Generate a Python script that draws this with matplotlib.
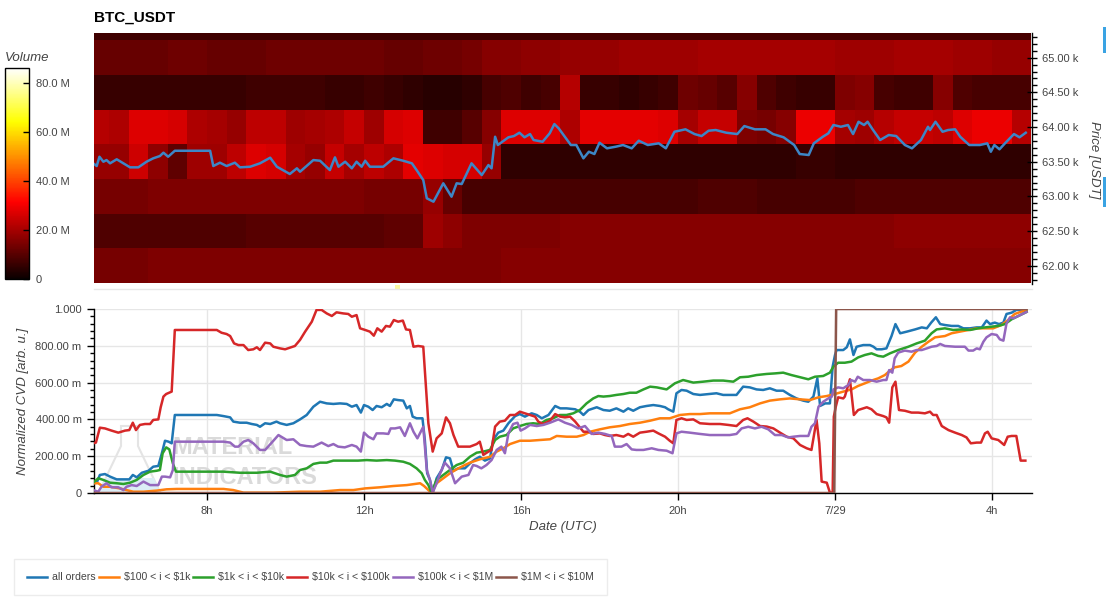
import numpy as np
import matplotlib
matplotlib.use('Agg')
import matplotlib.pyplot as plt
from matplotlib.ticker import FixedLocator, FuncFormatter, MultipleLocator
from matplotlib.colors import Normalize
from matplotlib.cm import ScalarMappable
from matplotlib.lines import Line2D
from matplotlib.patches import Rectangle, Polygon

plt.rcParams['font.family'] = ['Liberation Sans', 'DejaVu Sans']

# ---------------- data ----------------
# price (hours since 7/28 00:00 UTC, USDT)
price_t = [5.10,5.19,5.26,5.36,5.44,5.53,5.70,5.87,6.04,6.25,6.46,6.63,6.80,6.89,7.01,7.18,8.08,8.16,8.33,8.50,
           8.71,8.84,9.10,9.35,9.61,9.78,10.11,10.29,10.37,10.71,10.88,11.13,11.26,11.35,11.52,11.69,11.81,11.94,12.03,12.15,
           12.49,12.75,13.00,13.22,13.34,13.51,13.60,13.77,14.02,14.23,14.36,14.49,14.74,15.00,15.17,15.25,15.34,15.41,15.68,15.82,
           15.96,16.09,16.23,16.32,16.55,16.73,16.85,16.96,17.27,17.41,17.59,17.73,17.87,18.00,18.19,18.41,18.60,18.82,19.00,19.23,
           19.51,19.69,19.91,20.19,20.42,20.60,20.78,20.96,21.23,21.51,21.69,21.96,22.23,22.42,22.69,22.96,23.10,23.33,23.46,23.69,
           23.83,23.96,24.15,24.33,24.46,24.60,24.74,24.83,24.97,25.15,25.37,25.56,25.78,25.96,26.19,26.37,26.42,26.56,26.74,26.88,
           27.06,27.19,27.42,27.69,27.88,27.97,28.06,28.19,28.33,28.56,28.70,28.86]
price_v = [63477,63438,63572,63500,63524,63477,63535,63477,63419,63419,63500,63549,63582,63630,63572,63658,63658,63438,63486,63438,
           63486,63419,63428,63477,63558,63428,63323,63405,63356,63524,63514,63380,63563,63428,63500,63405,63500,63428,63514,63428,
           63428,63549,63514,63477,63380,63236,62973,62924,63189,62996,63189,63179,63477,63308,63452,63405,63860,63741,63852,63870,
           63918,63852,63899,63813,63788,63909,64043,63981,63741,63741,63549,63644,63611,63774,63693,63716,63741,63693,63803,63741,
           63765,63693,63932,63967,63899,63870,63947,63957,63918,63899,64014,63967,63967,63899,63852,63741,63611,63597,63765,63860,
           63909,64029,64004,64029,63899,64076,64029,64076,63957,63813,63885,63870,63741,63693,63813,64004,63957,64076,63932,63957,
           63967,63860,63741,63741,63765,63644,63741,63679,63765,63899,63852,63918]

# volume heatmap (M USDT), price bands of 500 USDT, 30-minute columns from 05:00
band_centers = [62000, 62500, 63000, 63500, 64000, 64500, 65000, 65500]
vol_62000 = [14,14,14,15,15,15,15,15,15,15,15,15,15,15,15,15,15,15,15,15,15,16,16,16,16,16,16,16,16,16,
             16,16,16,16,16,16,16,16,16,16,16,16,16,16,16,16,16,16]
vol_62500 = [9,9,9,9,9,9,9,9,10,10,10,10,10,10,10,11,11,19,17,15,15,15,15,15,16,16,16,16,16,16,
             16,16,16,16,16,16,16,16,16,16,16,17,17,17,17,17,17,17]
vol_63000 = [14,14,14,15,15,15,15,15,15,15,15,15,15,15,14,14,14,18,12,8,8,8,8,8,8,8,8,8,8,8,
             8,9,9,9,8,8,8,8,8,9,9,9,9,9,9,9,9,9]
vol_63500 = [18,18,25,17,11,19,19,23,27,26,20,18,24,20,23,21,28,27,26,26,18,5,5,5,5,5,5,5,5,5,
             5,5,5,5,5,5,6,6,5,5,5,5,5,5,5,5,5,5]
vol_64000 = [22,21,27,27,26,21,20,18,23,23,19,20,21,24,19,26,27,7,7,10,16,27,27,27,21,28,28,28,28,27,
             20,24,24,15,14,16,29,29,20,19,22,24,24,23,27,29,29,22]
vol_64500 = [6,6,6,6,6,6,6,6,7,7,7,7,6,6,7,6,5,4,4,5,8,9,7,8,22,6,6,5,6,7,
             13,12,10,16,9,7,6,6,15,16,8,7,7,16,9,8,8,8]
vol_65000 = [12,12,12,12,13,13,12,12,12,13,13,13,13,13,13,12,12,13,13,14,16,16,17,17,18,18,18,19,19,19,
             19,20,20,20,20,20,20,20,19,19,19,20,20,20,19,19,18,18]
vol_65500 = [7,7,7,7,7,7,7,7,7,7,7,7,7,7,7,7,7,7,7,7,7,7,7,7,8,8,8,8,8,8,
             8,8,8,8,8,8,8,8,8,8,8,8,8,8,8,8,8,8]

# normalized CVD series: (hour, value)
all_orders = [(5.10,.053),(5.19,.056),(5.27,.098),(5.40,.103),(5.53,.089),(5.70,.074),(5.87,.074),(6.02,.074),(6.11,.098),(6.21,.085),
    (6.34,.11),(6.51,.121),(6.63,.143),(6.76,.147),(6.85,.216),(6.93,.284),(7.02,.279),(7.10,.27),(7.18,.424),(8.25,.424),
    (8.42,.418),(8.59,.411),(8.67,.388),(8.84,.382),(9.01,.382),(9.14,.375),(9.27,.37),(9.35,.36),(9.48,.379),(9.61,.375),
    (9.77,.388),(9.86,.379),(10.03,.37),(10.20,.379),(10.37,.40),(10.54,.424),(10.71,.469),(10.88,.496),(11.05,.487),(11.22,.484),
    (11.39,.487),(11.56,.484),(11.69,.469),(11.81,.478),(11.92,.437),(12.00,.478),(12.11,.469),(12.22,.451),(12.32,.473),(12.45,.466),
    (12.58,.484),(12.66,.473),(12.76,.509),(12.87,.505),(13.00,.502),(13.09,.46),(13.17,.473),(13.24,.415),(13.34,.406),(13.49,.406),
    (13.55,.288),(13.61,.107),(13.68,.071),(13.75,.002),(13.85,.08),(13.98,.125),(14.09,.194),(14.19,.188),(14.28,.121),(14.40,.134),
    (14.57,.134),(14.70,.161),(14.83,.183),(14.95,.197),(15.08,.176),(15.21,.188),(15.29,.288),(15.42,.328),(15.55,.339),(15.68,.379),
    (15.85,.418),(15.97,.429),(16.10,.415),(16.27,.433),(16.40,.424),(16.53,.406),(16.70,.424),(16.87,.473),(17.00,.46),(17.16,.46),
    (17.38,.455),(17.50,.442),(17.59,.424),(17.72,.451),(17.93,.466),(18.10,.451),(18.26,.447),(18.43,.46),(18.61,.442),(18.73,.46),
    (18.86,.447),(19.03,.466),(19.20,.473),(19.37,.478),(19.54,.473),(19.67,.466),(19.75,.455),(19.88,.442),(19.96,.542),(20.09,.56),
    (20.22,.556),(20.39,.538),(20.56,.533),(20.81,.538),(20.98,.542),(21.15,.533),(21.32,.533),(21.49,.533),(21.66,.578),(21.83,.574),
    (22.00,.563),(22.17,.56),(22.34,.569),(22.51,.556),(22.68,.556),(22.85,.533),(23.02,.514),(23.19,.502),(23.32,.496),(23.45,.524),
    (23.55,.623),(23.62,.473),(23.75,.487),(23.87,.487),(23.94,.687),(24.00,.75),(24.04,.777),(24.21,.777),(24.30,.792),(24.38,.835),
    (24.47,.75),(24.55,.795),(24.72,.804),(24.89,.804),(24.98,.795),(25.06,.781),(25.19,.781),(25.31,.786),(25.44,.853),(25.54,.918),
    (25.66,.868),(25.83,.877),(26.04,.889),(26.21,.90),(26.34,.895),(26.45,.926),(26.57,.955),(26.68,.918),(26.80,.913),(26.97,.908),
    (27.14,.908),(27.27,.895),(27.44,.895),(27.61,.90),(27.74,.90),(27.86,.937),(27.95,.918),(28.07,.926),(28.18,.918),(28.29,.926),
    (28.37,.973),(28.50,.98),(28.62,.995),(28.75,.995),(28.88,.991)]

cvd_100_1k = [(5.10,.053),(5.23,.053),(5.36,.034),(5.53,.034),(5.78,.025),(5.95,.016),(6.12,.007),(6.38,.007),(6.72,.013),(6.97,.02),
    (7.23,.022),(7.57,.022),(7.99,.022),(8.42,.022),(8.67,.016),(8.93,.002),(9.27,.002),(9.69,.002),(10.37,.007),(10.88,.007),
    (11.39,.016),(11.73,.016),(12.03,.025),(12.41,.031),(12.75,.038),(13.09,.043),(13.43,.053),(13.53,.038),(13.64,.016),(13.72,.002),
    (13.85,.053),(14.02,.08),(14.19,.107),(14.36,.129),(14.57,.152),(14.70,.165),(14.95,.183),(15.21,.197),(15.38,.225),(15.55,.243),
    (15.72,.266),(15.97,.284),(16.23,.284),(16.48,.288),(16.74,.292),(16.91,.31),(17.16,.306),(17.42,.306),(17.59,.315),(17.76,.333),
    (18.01,.346),(18.26,.357),(18.52,.364),(18.77,.375),(19.03,.382),(19.29,.393),(19.54,.406),(19.79,.406),(20.05,.424),(20.30,.429),
    (20.56,.429),(20.81,.433),(21.07,.433),(21.32,.433),(21.58,.455),(21.83,.466),(22.09,.487),(22.34,.502),(22.60,.509),(22.85,.514),
    (23.11,.509),(23.36,.505),(23.58,.52),(23.79,.527),(24.00,.538),(24.21,.551),(24.42,.563),(24.59,.582),(24.76,.596),(24.93,.611),
    (25.10,.623),(25.27,.641),(25.40,.665),(25.52,.683),(25.69,.69),(25.87,.714),(26.04,.763),(26.21,.795),(26.38,.822),(26.55,.846),
    (26.80,.853),(26.97,.868),(27.18,.877),(27.40,.886),(27.61,.895),(27.82,.895),(28.03,.895),(28.24,.913),(28.41,.94),(28.58,.973),
    (28.75,.986),(28.88,.991)]

cvd_1k_10k = [(5.10,.056),(5.23,.08),(5.36,.071),(5.53,.056),(5.70,.053),(5.87,.049),(6.04,.056),(6.21,.071),(6.38,.098),(6.55,.116),
    (6.72,.121),(6.80,.125),(6.87,.216),(6.96,.248),(7.04,.237),(7.13,.161),(7.21,.116),(7.57,.116),(7.99,.116),(8.42,.116),
    (8.84,.11),(9.27,.11),(9.61,.116),(9.86,.098),(10.03,.089),(10.24,.098),(10.37,.125),(10.54,.134),(10.71,.158),(10.88,.165),
    (11.05,.165),(11.22,.176),(11.43,.176),(11.64,.176),(11.85,.176),(12.07,.179),(12.32,.176),(12.58,.179),(12.79,.176),(13.00,.17),
    (13.17,.158),(13.34,.134),(13.47,.107),(13.55,.071),(13.64,.043),(13.72,.002),(13.85,.071),(14.02,.098),(14.19,.125),(14.36,.152),
    (14.53,.165),(14.70,.197),(14.87,.219),(15.04,.225),(15.21,.234),(15.34,.288),(15.46,.306),(15.63,.315),(15.80,.351),(15.97,.364),
    (16.14,.375),(16.31,.379),(16.48,.375),(16.65,.397),(16.82,.406),(16.99,.424),(17.16,.424),(17.33,.433),(17.50,.451),(17.67,.487),
    (17.84,.514),(17.97,.527),(18.10,.524),(18.26,.527),(18.43,.533),(18.61,.538),(18.77,.545),(18.94,.545),(19.12,.563),(19.29,.578),
    (19.46,.574),(19.71,.563),(19.92,.596),(20.13,.614),(20.39,.60),(20.64,.605),(20.90,.611),(21.15,.611),(21.41,.605),(21.58,.629),
    (21.79,.632),(22.00,.641),(22.26,.647),(22.47,.65),(22.68,.654),(22.89,.641),(23.11,.629),(23.32,.618),(23.49,.632),(23.70,.636),
    (23.87,.654),(23.96,.687),(24.08,.708),(24.25,.708),(24.42,.714),(24.59,.737),(24.76,.75),(24.93,.759),(25.10,.745),(25.23,.741),
    (25.40,.759),(25.61,.777),(25.87,.795),(26.08,.813),(26.29,.828),(26.46,.868),(26.59,.889),(26.80,.895),(27.01,.886),(27.23,.889),
    (27.44,.886),(27.65,.895),(27.82,.90),(27.99,.904),(28.16,.908),(28.33,.918),(28.50,.944),(28.67,.962),(28.88,.984)]

cvd_10k_100k = [(5.10,.27),(5.17,.274),(5.27,.355),(5.40,.351),(5.57,.339),(5.74,.328),(5.91,.339),(6.02,.342),(6.11,.382),(6.19,.342),
    (6.29,.37),(6.42,.375),(6.55,.375),(6.63,.397),(6.76,.40),(6.82,.466),(6.89,.524),(6.96,.538),(7.10,.551),(7.18,.886),
    (8.25,.886),(8.37,.871),(8.50,.864),(8.59,.853),(8.69,.813),(8.80,.804),(8.93,.804),(9.05,.777),(9.18,.781),(9.27,.792),
    (9.35,.777),(9.48,.817),(9.61,.813),(9.69,.795),(9.86,.786),(9.99,.781),(10.24,.799),(10.37,.832),(10.50,.877),(10.67,.931),
    (10.79,.995),(10.92,.995),(11.05,.976),(11.18,.962),(11.30,.982),(11.47,.976),(11.60,.973),(11.69,.958),(11.81,.967),(11.90,.895),
    (12.03,.886),(12.15,.877),(12.25,.855),(12.34,.895),(12.45,.877),(12.56,.908),(12.66,.904),(12.76,.94),(12.87,.931),(12.99,.937),
    (13.07,.889),(13.17,.886),(13.26,.795),(13.38,.799),(13.51,.795),(13.64,.379),(13.75,.225),(13.85,.297),(13.98,.324),(14.09,.411),
    (14.19,.379),(14.28,.315),(14.40,.252),(14.57,.252),(14.70,.252),(14.87,.266),(14.95,.279),(15.04,.207),(15.17,.225),(15.25,.234),
    (15.34,.361),(15.46,.388),(15.59,.393),(15.72,.424),(15.85,.424),(15.97,.442),(16.10,.433),(16.23,.424),(16.36,.415),(16.44,.388),
    (16.57,.375),(16.74,.393),(16.87,.429),(17.00,.415),(17.12,.411),(17.25,.415),(17.38,.388),(17.59,.333),(17.72,.333),(17.84,.321),
    (18.01,.324),(18.14,.315),(18.26,.31),(18.43,.315),(18.61,.306),(18.73,.321),(18.86,.306),(19.03,.328),(19.20,.333),(19.37,.339),
    (19.50,.324),(19.67,.306),(19.79,.284),(19.88,.27),(19.96,.397),(20.09,.406),(20.22,.397),(20.39,.40),(20.56,.379),(20.81,.375),
    (21.07,.375),(21.28,.37),(21.49,.364),(21.66,.397),(21.77,.406),(21.92,.388),(22.09,.364),(22.26,.361),(22.43,.351),(22.60,.328),
    (22.77,.306),(22.94,.297),(23.11,.261),(23.28,.243),(23.40,.234),(23.53,.397),(23.60,.27),(23.66,.062),(23.79,.056),(23.87,.002),
    (23.94,.002),(23.97,.415),(24.02,.469),(24.08,.52),(24.21,.514),(24.25,.524),(24.38,.618),(24.48,.424),(24.59,.451),(24.72,.46),
    (24.81,.466),(24.93,.455),(25.06,.429),(25.23,.418),(25.31,.411),(25.38,.382),(25.46,.574),(25.54,.605),(25.63,.451),(25.78,.447),
    (25.95,.437),(26.12,.437),(26.29,.433),(26.42,.442),(26.50,.424),(26.59,.424),(26.72,.364),(26.89,.342),(27.06,.328),(27.23,.315),
    (27.35,.302),(27.46,.27),(27.61,.274),(27.72,.274),(27.82,.324),(27.89,.333),(27.99,.297),(28.16,.288),(28.31,.261),(28.40,.306),
    (28.50,.31),(28.62,.31),(28.73,.176),(28.85,.176)]

cvd_100k_1m = [(5.10,.016),(5.23,.007),(5.31,.034),(5.44,.053),(5.57,.031),(5.74,.031),(5.87,.016),(5.95,.034),(6.08,.043),(6.21,.038),
    (6.38,.062),(6.55,.043),(6.76,.043),(6.85,.089),(6.93,.089),(7.06,.085),(7.13,.125),(7.18,.279),(7.99,.279),(8.42,.279),
    (8.59,.274),(8.71,.252),(8.80,.252),(8.93,.279),(9.05,.288),(9.18,.27),(9.35,.234),(9.48,.234),(9.65,.274),(9.82,.315),
    (10.03,.288),(10.20,.292),(10.37,.261),(10.54,.255),(10.71,.252),(10.92,.274),(11.09,.255),(11.22,.266),(11.34,.252),(11.51,.248),
    (11.69,.261),(11.81,.252),(11.92,.225),(12.00,.328),(12.11,.306),(12.24,.292),(12.32,.324),(12.49,.324),(12.62,.321),(12.68,.351),
    (12.79,.351),(12.92,.357),(13.04,.31),(13.17,.379),(13.26,.333),(13.36,.297),(13.51,.36),(13.60,.125),(13.68,.071),(13.75,.002),
    (13.85,.053),(13.94,.107),(14.06,.165),(14.19,.134),(14.32,.053),(14.49,.089),(14.66,.098),(14.78,.152),(14.87,.147),(14.99,.134),
    (15.12,.152),(15.25,.179),(15.38,.234),(15.50,.252),(15.59,.216),(15.68,.324),(15.80,.375),(15.91,.382),(15.99,.339),(16.10,.351),
    (16.23,.37),(16.40,.364),(16.57,.37),(16.74,.382),(16.95,.40),(17.12,.382),(17.29,.37),(17.46,.351),(17.63,.364),(17.80,.321),
    (17.97,.328),(18.14,.321),(18.31,.31),(18.39,.252),(18.56,.252),(18.69,.266),(18.82,.237),(18.94,.234),(19.12,.234),(19.33,.243),
    (19.50,.234),(19.71,.23),(19.86,.216),(19.96,.324),(20.09,.333),(20.30,.328),(20.56,.321),(20.81,.315),(21.07,.315),(21.32,.315),
    (21.49,.321),(21.62,.351),(21.79,.36),(21.96,.351),(22.13,.36),(22.30,.346),(22.47,.315),(22.64,.315),(22.81,.302),(22.94,.306),
    (23.11,.31),(23.32,.31),(23.40,.36),(23.49,.379),(23.58,.469),(23.70,.496),(23.83,.514),(23.92,.524),(23.96,.563),(24.08,.574),
    (24.21,.569),(24.34,.587),(24.41,.614),(24.51,.605),(24.58,.632),(24.72,.614),(24.89,.614),(25.06,.605),(25.23,.614),(25.31,.614),
    (25.38,.668),(25.46,.654),(25.52,.732),(25.61,.763),(25.78,.774),(25.95,.768),(26.08,.777),(26.21,.777),(26.34,.786),(26.46,.795),
    (26.59,.799),(26.68,.81),(26.80,.799),(27.06,.795),(27.31,.795),(27.40,.774),(27.52,.774),(27.61,.786),(27.69,.781),(27.78,.822),
    (27.86,.846),(27.99,.864),(28.12,.859),(28.20,.835),(28.29,.828),(28.37,.922),(28.46,.955),(28.54,.949),(28.67,.962),(28.88,.984)]

cvd_1m_10m = [(5.10,0.0),(23.98,0.0),(24.03,1.0),(28.88,1.0)]

series_labels = ['all orders', r'\$100 < i < \$1k', r'\$1k < i < \$10k', r'\$10k < i < \$100k',
                 r'\$100k < i < \$1M', r'\$1M < i < \$10M']
series_colors = ['#1f77b4', '#ff7f0e', '#2ca02c', '#d62728', '#9467bd', '#8c564b']

# ---------------- layout helpers ----------------
W, H = 1106, 597
fig = plt.figure(figsize=(W / 100, H / 100), dpi=100)

def fx(px):
    return px / W

def fy(py):
    return 1 - py / H

TXT = '#444444'
XMIN, XMAX = 5.121, 29.019

# ---------------- top heatmap ----------------
ax1 = fig.add_axes([fx(94), fy(284), fx(1032) - fx(94), fy(33) - fy(284)])
vol = np.array([vol_62000, vol_62500, vol_63000, vol_63500, vol_64000, vol_64500, vol_65000, vol_65500], dtype=float)
t_edges = np.arange(5.0, 29.01, 0.5)
c = np.array(band_centers, dtype=float)
p_edges = np.concatenate([c - 250, [c[-1] + 250]])
norm = Normalize(0, 86)
ax1.pcolormesh(t_edges, p_edges, vol, cmap='hot', norm=norm, shading='flat', antialiased=False, zorder=1)
ax1.plot(price_t, price_v, color='#3d86c6', lw=1.8, zorder=3)
ax1.set_xlim(XMIN, XMAX)
ax1.set_ylim(61738, 65355)
for s in ['left', 'top', 'bottom']:
    ax1.spines[s].set_visible(False)
ax1.spines['right'].set_linewidth(1.0)
ax1.set_xticks([])
ax1.yaxis.tick_right()
ax1.yaxis.set_major_locator(MultipleLocator(500))
ax1.yaxis.set_minor_locator(MultipleLocator(100))
ax1.yaxis.set_major_formatter(FuncFormatter(lambda v, p: f'{v/1000:.2f} k'))
ax1.tick_params(axis='y', which='major', direction='inout', length=7, width=1, labelsize=8, labelcolor=TXT, pad=4)
ax1.tick_params(axis='y', which='minor', direction='out', length=3.5, width=1)

fig.text(fx(94), fy(18), 'BTC_USDT', fontsize=11, fontweight='bold', ha='left', va='center')
fig.text(fx(1094), fy(160), 'Price [USDT]', rotation=270, style='italic', fontsize=9.5,
         color=TXT, ha='center', va='center')

# colorbar
cax = fig.add_axes([fx(5), fy(279), fx(29) - fx(5), fy(68) - fy(279)])
cb = fig.colorbar(ScalarMappable(norm=norm, cmap='hot'), cax=cax)
cb.set_ticks([0, 20, 40, 60, 80])
cb.ax.yaxis.set_major_formatter(FuncFormatter(lambda v, p: '0' if v == 0 else f'{v:.1f} M'))
cb.ax.tick_params(direction='in', length=4, width=1, labelsize=8, labelcolor=TXT, pad=5)
cb.outline.set_linewidth(1.0)
fig.text(fx(5), fy(58), 'Volume', style='italic', fontsize=9.5, color=TXT, ha='left', va='center')

# decorations
fig.add_artist(Line2D([fx(94), fx(1032)], [fy(289), fy(289)], color='#e8e8e8', lw=1))
fig.add_artist(Rectangle((fx(395), fy(290)), fx(5), fy(285) - fy(290), color='#fbf7a0', lw=0))
fig.add_artist(Rectangle((fx(1103), fy(53)), fx(3), fy(27) - fy(53), color='#3aa3e3', lw=0))
fig.add_artist(Rectangle((fx(1103), fy(207)), fx(3), fy(177) - fy(207), color='#3aa3e3', lw=0))

# ---------------- bottom CVD chart ----------------
ax2 = fig.add_axes([fx(94), fy(493), fx(1032) - fx(94), fy(309) - fy(493)])
ax2.set_axisbelow(True)
series = [all_orders, cvd_100_1k, cvd_1k_10k, cvd_10k_100k, cvd_100k_1m, cvd_1m_10m]
handles = []
for pts, col, lab in zip(series, series_colors, series_labels):
    t = [a for a, b in pts]
    v = [b for a, b in pts]
    ln, = ax2.plot(t, v, color=col, lw=1.8, label=lab, zorder=3, solid_joinstyle='round')
    handles.append(ln)

ax2.set_xlim(XMIN, XMAX)
ax2.set_ylim(0, 1.0)
ax2.xaxis.set_major_locator(FixedLocator([8, 12, 16, 20, 24, 28]))
ax2.xaxis.set_major_formatter(FuncFormatter(lambda h, p: '7/29' if int(round(h)) == 24 else f'{int(round(h)) % 24}h'))
ax2.yaxis.set_major_locator(MultipleLocator(0.2))
ax2.yaxis.set_minor_locator(MultipleLocator(0.04))
ax2.yaxis.set_major_formatter(FuncFormatter(
    lambda v, p: '0' if abs(v) < 1e-9 else ('1.000' if abs(v - 1) < 1e-9 else f'{v*1000:.2f} m')))
ax2.grid(True, which='major', color='#e6e6e6', lw=1)
for s in ['top', 'right']:
    ax2.spines[s].set_visible(False)
for s in ['left', 'bottom']:
    ax2.spines[s].set_linewidth(1.0)
ax2.tick_params(axis='both', which='major', direction='out', length=5, width=1, labelsize=8, labelcolor=TXT, pad=4)
ax2.tick_params(axis='y', which='minor', direction='out', length=3, width=1)

fig.text(fx(23), fy(401), 'Normalized CVD [arb. u.]', rotation=90, style='italic', fontsize=9.5,
         color=TXT, ha='center', va='center')
fig.text(fx(563), fy(527), 'Date (UTC)', style='italic', fontsize=9.5, color=TXT, ha='center', va='center')

# watermark
wm = dict(color='#dadada', fontweight='bold', fontsize=17, ha='left', va='center',
          family=['Liberation Sans', 'DejaVu Sans'], zorder=1, transform=fig.transFigure)
ax2.text(fx(172), fy(448), 'MATERIAL', **wm)
ax2.text(fx(172), fy(478), 'INDICATORS', **wm)
flask = Polygon([(fx(121), fy(426)), (fx(138), fy(426)), (fx(138), fy(446)), (fx(160), fy(492)),
                 (fx(99), fy(492)), (fx(121), fy(446))], closed=True, fill=False,
                edgecolor='#e4e4e4', lw=1.5, transform=fig.transFigure, zorder=1)
ax2.add_artist(flask)
liquid = Polygon([(fx(105), fy(478)), (fx(154), fy(478)), (fx(160), fy(492)), (fx(99), fy(492))],
                 closed=True, facecolor='#dcedf6', edgecolor='none', transform=fig.transFigure, zorder=1)
ax2.add_artist(liquid)

# legend
fig.legend(handles=handles, labels=series_labels, loc='upper left', bbox_to_anchor=(fx(14), fy(559)),
           ncol=6, frameon=True, fancybox=False, edgecolor='#e8e8e8', fontsize=7.6, handlelength=1.9,
           handletextpad=0.45, columnspacing=0.3, borderpad=1.25, borderaxespad=0, labelcolor=TXT)

fig.savefig('out.png', dpi=100)
